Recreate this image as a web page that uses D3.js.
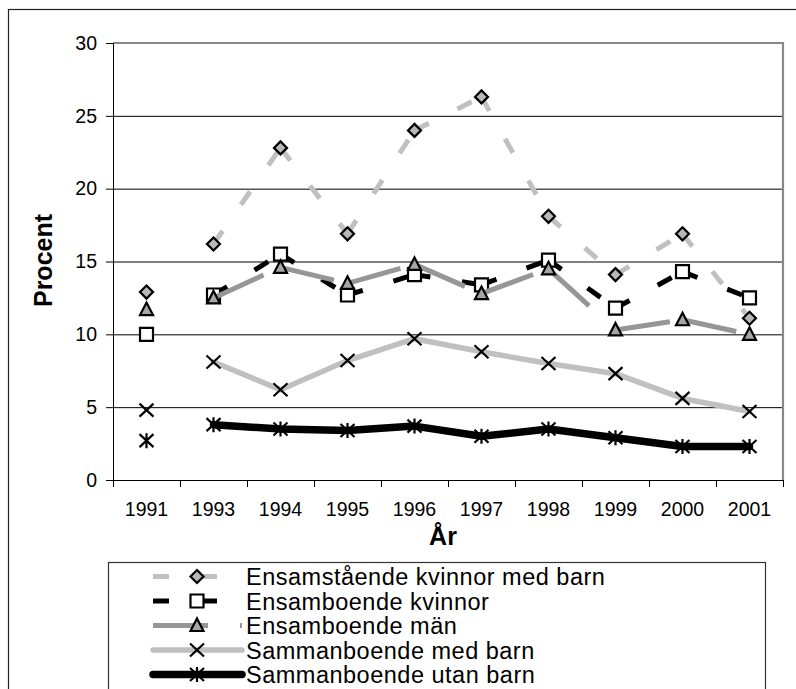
<!DOCTYPE html>
<html>
<head>
<meta charset="utf-8">
<script src="https://cdn.jsdelivr.net/npm/d3@7"></script>
<style>
    body { margin: 0; background: #fff; }
    text { font-family: "Liberation Sans", Arial, sans-serif; }
</style>
</head>
<body>
<script>
// data
const years = ["1991", "1993", "1994", "1995", "1996", "1997", "1998", "1999", "2000", "2001"];
const seriesNames = ["Ensamstående kvinnor med barn", "Ensamboende kvinnor", "Ensamboende män",
    "Sammanboende med barn", "Sammanboende utan barn"];
const ensamKvinnorBarn = [12.9, 16.2, 22.8, 16.9, 24.0, 26.3, 18.1, 14.1, 16.9, 11.1];
const ensamboendeKvinnor = [10.0, 12.7, 15.5, 12.7, 14.1, 13.4, 15.1, 11.8, 14.3, 12.5];
const ensamboendeMan = [11.7, 12.5, 14.6, 13.5, 14.8, 12.8, 14.5, 10.3, 11.0, 10.0];
const sammanMedBarn = [4.8, 8.1, 6.2, 8.2, 9.7, 8.8, 8.0, 7.3, 5.6, 4.7];
const sammanUtanBarn = [2.7, 3.8, 3.5, 3.4, 3.7, 3.0, 3.5, 2.9, 2.3, 2.3];
const yTicks = [0, 5, 10, 15, 20, 25, 30];
// no line is drawn from 1991 to 1993 (1992 is missing)
const gapAfter = "1991";

const canvWidth = 796, canvHeight = 689;
const svg = d3.select("body").append("svg")
    .attr("width", canvWidth)
    .attr("height", canvHeight);

const margin = {top: 43, left: 113};
const width = 670, height = 437;

// outer frame of the chart
svg.append("rect")
    .attr("x", 8.5).attr("y", 9.5)
    .attr("width", 800).attr("height", 720)
    .attr("fill", "none")
    .attr("stroke", "#222")
    .attr("stroke-width", 1.2);

const g = svg.append("g")
    .attr("transform", "translate(" + margin.left + "," + margin.top + ")");

const xScale = d3.scaleBand()
    .domain(years)
    .range([0, width]);

const yScale = d3.scaleLinear()
    .domain([0, 30])
    .range([height, 0]);

// grid + y axis
const yAxis = d3.axisLeft(yScale).tickValues(yTicks).tickSize(7).tickPadding(9);
const yG = g.append("g").call(yAxis);
yG.select(".domain").remove();
yG.selectAll("text").attr("font-size", "19.5px").attr("fill", "#000");
yG.selectAll("line").attr("stroke", "#000");

g.append("g")
    .selectAll("line")
    .data(yTicks.filter(d => d > 0 && d < 30))
    .join("line")
    .attr("x1", 0).attr("x2", width)
    .attr("y1", d => yScale(d) + 0.5).attr("y2", d => yScale(d) + 0.5)
    .attr("stroke", "#000")
    .attr("stroke-width", 1);

// gray frame top and right
g.append("path")
    .attr("d", "M0," + yScale(30) + "H" + width + "V" + height)
    .attr("fill", "none")
    .attr("stroke", "#888")
    .attr("stroke-width", 2.2);

// x axis: labels at band centers, ticks at band edges
const xAxis = d3.axisBottom(xScale).tickSize(0).tickPadding(22);
const xG = g.append("g")
    .attr("transform", "translate(0," + height + ")")
    .call(xAxis);
xG.select(".domain").remove();
xG.selectAll("text").attr("font-size", "19.5px").attr("fill", "#000");

const edges = years.map(d => xScale(d)).concat([width]);
xG.selectAll(".edge")
    .data(edges)
    .join("line")
    .attr("class", "edge")
    .attr("x1", d => d + 0.5).attr("x2", d => d + 0.5)
    .attr("y1", 0).attr("y2", 7)
    .attr("stroke", "#000");

g.append("line")
    .attr("x1", 0).attr("x2", width)
    .attr("y1", height + 0.5).attr("y2", height + 0.5)
    .attr("stroke", "#000");
g.append("line")
    .attr("x1", 0.5).attr("x2", 0.5)
    .attr("y1", 0).attr("y2", height)
    .attr("stroke", "#000");

// axis titles
svg.append("text")
    .attr("x", 443).attr("y", 545)
    .attr("text-anchor", "middle")
    .attr("font-size", "25px")
    .attr("font-weight", "bold")
    .text("År");

svg.append("text")
    .attr("transform", "translate(52,260.5) rotate(-90)")
    .attr("text-anchor", "middle")
    .attr("font-size", "25px")
    .attr("font-weight", "bold")
    .text("Procent");

// marker shapes
const markerPaths = {
    diamond: "M0,-6.5L6.5,0L0,6.5L-6.5,0Z",
    square: "M-6.5,-6.5H6.5V6.5H-6.5Z",
    triangle: "M0,-7L6.5,5.5H-6.5Z",
    cross: "M-7,-6.5L7,6.5M7,-6.5L-7,6.5",
    star: "M-7,-6.5L7,6.5M7,-6.5L-7,6.5M0,-7.5V7.5"
};

const series = [
    {name: seriesNames[0], values: ensamKvinnorBarn, color: "#c0c0c0", width: 5, dash: "16,32", cap: "butt",
        marker: "diamond", fill: "#b8b8b8"},
    {name: seriesNames[1], values: ensamboendeKvinnor, color: "#000", width: 5, dash: "16,32", cap: "butt",
        marker: "square", fill: "#fff"},
    {name: seriesNames[2], values: ensamboendeMan, color: "#969696", width: 5, dash: "55,32", cap: "butt",
        marker: "triangle", fill: "#a6a6a6"},
    {name: seriesNames[3], values: sammanMedBarn, color: "#c0c0c0", width: 5.5, dash: null, cap: "round",
        marker: "cross", fill: "none"},
    {name: seriesNames[4], values: sammanUtanBarn, color: "#000", width: 7.5, dash: null, cap: "round",
        marker: "star", fill: "none"}
];

const cx = d => xScale(d) + xScale.bandwidth() / 2;
const line = d3.line().x(d => cx(d.year)).y(d => yScale(d.value));

series.forEach(s => {
    const pts = years.map((y, i) => ({year: y, value: s.values[i]}));
    const sg = g.append("g");
    const segs = d3.pairs(pts).filter(p => p[0].year !== gapAfter);

    if (s.dash) {
        // excel restarts the dash pattern on each segment
        sg.selectAll("path.seg")
            .data(segs)
            .join("path")
            .attr("class", "seg")
            .attr("d", d => line(d))
            .attr("fill", "none")
            .attr("stroke", s.color)
            .attr("stroke-width", s.width)
            .attr("stroke-dasharray", s.dash)
            .attr("stroke-linecap", s.cap);
    } else {
        sg.append("path")
            .attr("d", line(pts.filter(p => p.year !== gapAfter)))
            .attr("fill", "none")
            .attr("stroke", s.color)
            .attr("stroke-width", s.width)
            .attr("stroke-linejoin", "round")
            .attr("stroke-linecap", s.cap);
    }

    sg.selectAll("path.mark")
        .data(pts)
        .join("path")
        .attr("class", "mark")
        .attr("transform", d => "translate(" + cx(d.year) + "," + yScale(d.value) + ")")
        .attr("d", markerPaths[s.marker])
        .attr("fill", s.fill)
        .attr("stroke", "#000")
        .attr("stroke-width", 2.2);
});

// legend
const legend = svg.append("g");
legend.append("rect")
    .attr("x", 108.5).attr("y", 562.5)
    .attr("width", 657).attr("height", 200)
    .attr("fill", "#fff")
    .attr("stroke", "#333")
    .attr("stroke-width", 1.2);

const rowY = (d, i) => 576.5 + i * 24.5;
const entries = legend.selectAll("g.entry")
    .data(series)
    .join("g")
    .attr("class", "entry")
    .attr("transform", (d, i) => "translate(0," + rowY(d, i) + ")");

entries.append("line")
    .attr("x1", 153).attr("x2", 242)
    .attr("stroke", d => d.color)
    .attr("stroke-width", d => d.width)
    .attr("stroke-dasharray", d => d.dash)
    .attr("stroke-linecap", d => d.cap);

entries.append("path")
    .attr("transform", "translate(197,0)")
    .attr("d", d => markerPaths[d.marker])
    .attr("fill", d => d.fill)
    .attr("stroke", "#000")
    .attr("stroke-width", 2.2);

entries.append("text")
    .attr("x", 246).attr("y", 8.5)
    .attr("font-size", "23.5px")
    .attr("letter-spacing", "0.5px")
    .text(d => d.name);
</script>
</body>
</html>
